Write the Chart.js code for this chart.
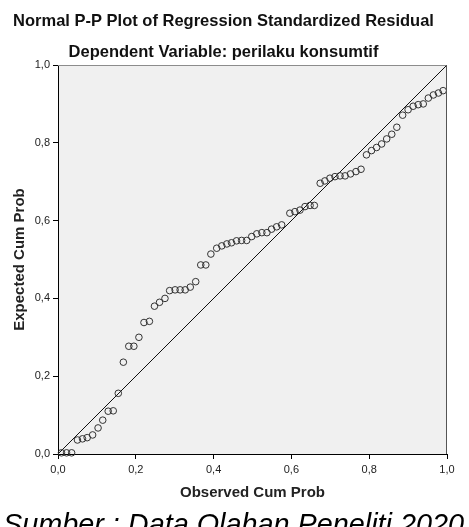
<!DOCTYPE html>
<html>
<head>
<meta charset="utf-8">
<script src="https://cdn.jsdelivr.net/npm/chart.js@4.4.0/dist/chart.umd.min.js"></script>
<style>
  html, body { margin: 0; padding: 0; background: #fff; overflow: hidden; }
  #wrap { position: relative; width: 469px; height: 527px; }
  #caption {
    position: absolute; left: 3px; top: 510px;
    font: italic 28.8px "Liberation Sans", Arial, sans-serif;
    line-height: 28.8px; white-space: nowrap; color: #000;
  }
</style>
</head>
<body>
<div id="wrap">
  <canvas id="pp-plot" width="469" height="527"></canvas>
  <div id="caption">Sumber : Data Olahan Peneliti 2020</div>
</div>
<script>
// observed vs expected cumulative probability
const observedProb = [
    0.009, 0.022, 0.035, 0.050, 0.063, 0.075, 0.089, 0.103, 0.115, 0.129,
    0.142, 0.155, 0.168, 0.182, 0.195, 0.208, 0.221, 0.235, 0.248, 0.261,
    0.275, 0.287, 0.301, 0.314, 0.327, 0.340, 0.354, 0.367, 0.380, 0.393,
    0.408, 0.421, 0.434, 0.446, 0.459, 0.472, 0.485, 0.498, 0.511, 0.524,
    0.537, 0.549, 0.562, 0.575, 0.596, 0.609, 0.622, 0.635, 0.648, 0.659,
    0.674, 0.686, 0.699, 0.712, 0.725, 0.738, 0.752, 0.766, 0.779, 0.793,
    0.806, 0.819, 0.832, 0.845, 0.858, 0.871, 0.886, 0.900, 0.913, 0.926,
    0.939, 0.952, 0.965, 0.978, 0.990
];
const expectedProb = [
    0.003, 0.003, 0.003, 0.036, 0.039, 0.042, 0.049, 0.067, 0.087, 0.110,
    0.111, 0.156, 0.236, 0.277, 0.277, 0.300, 0.338, 0.341, 0.380, 0.390,
    0.400, 0.420, 0.422, 0.422, 0.422, 0.429, 0.443, 0.486, 0.486, 0.514,
    0.529, 0.535, 0.540, 0.543, 0.548, 0.549, 0.549, 0.559, 0.566, 0.569,
    0.569, 0.578, 0.584, 0.589, 0.619, 0.623, 0.627, 0.636, 0.639, 0.639,
    0.696, 0.702, 0.709, 0.713, 0.715, 0.715, 0.720, 0.726, 0.732, 0.769,
    0.780, 0.788, 0.797, 0.810, 0.822, 0.840, 0.871, 0.885, 0.894, 0.898,
    0.900, 0.915, 0.923, 0.928, 0.934
];
const refLineX = [0, 1];
const refLineY = [0, 1];
const tickValues = [0, 0.2, 0.4, 0.6, 0.8, 1];
const tickLabels = ["0,0", "0,2", "0,4", "0,6", "0,8", "1,0"];

const FONT = "'Liberation Sans', Arial, sans-serif";

const plotFrame = {
    id: "plotFrame",
    beforeDraw(chart) {
        const { ctx, chartArea: a } = chart;
        ctx.save();
        ctx.fillStyle = "#f0f0f0";
        ctx.fillRect(a.left, a.top, a.right - a.left, a.bottom - a.top);
        ctx.restore();
    },
    afterDraw(chart) {
        const { ctx, chartArea: a } = chart;
        ctx.save();
        ctx.lineWidth = 1;
        ctx.strokeStyle = "#8c8c8c";
        ctx.beginPath();
        ctx.moveTo(a.left, a.top + 0.5);
        ctx.lineTo(a.right, a.top + 0.5);
        ctx.stroke();
        ctx.strokeStyle = "#555";
        ctx.beginPath();
        ctx.moveTo(a.right - 0.5, a.top);
        ctx.lineTo(a.right - 0.5, a.bottom);
        ctx.stroke();
        ctx.restore();
    }
};

function axisConfig(titleText, isX) {
    return {
        type: "linear",
        min: 0,
        max: 1,
        afterBuildTicks: (scale) => { scale.ticks = tickValues.map((v) => ({ value: v })); },
        afterFit: (scale) => {
            if (isX) scale.height = 51;
            else scale.width = 58;
        },
        ticks: {
            callback: (value, idx) => tickLabels[idx],
            font: { family: FONT, size: 11 },
            color: "#222",
            padding: isX ? 4 : 3,
            maxRotation: 0,
            autoSkip: false
        },
        grid: { drawOnChartArea: false, drawTicks: true, tickLength: 5, color: "#000" },
        border: { display: true, color: "#000", width: 1 },
        title: {
            display: true,
            text: titleText,
            font: { family: FONT, size: 15, weight: "bold" },
            color: "#222",
            padding: isX ? { top: 4, bottom: 3 } : { top: 11, bottom: 4 }
        }
    };
}

new Chart(document.getElementById("pp-plot"), {
    type: "scatter",
    data: {
        datasets: [
            {
                data: observedProb.map((x, i) => ({ x, y: expectedProb[i] })),
                pointStyle: "circle",
                pointRadius: 3.3,
                pointBorderWidth: 1,
                pointBorderColor: "#333",
                pointBackgroundColor: "rgba(0,0,0,0)",
                clip: false
            },
            {
                data: refLineX.map((x, i) => ({ x, y: refLineY[i] })),
                showLine: true,
                pointRadius: 0,
                borderColor: "#111",
                borderWidth: 1
            }
        ]
    },
    options: {
        responsive: false,
        animation: false,
        layout: { padding: { left: 0, right: 22, top: 0, bottom: 22 } },
        plugins: {
            legend: { display: false },
            tooltip: { enabled: false },
            title: {
                display: true,
                text: "Normal P-P Plot of Regression Standardized Residual",
                font: { family: FONT, size: 16.5, weight: "bold" },
                color: "#111",
                padding: { top: 12, bottom: 4 }
            },
            subtitle: {
                display: true,
                text: "Dependent Variable: perilaku konsumtif",
                font: { family: FONT, size: 16.5, weight: "bold" },
                color: "#111",
                padding: { top: 6.8, bottom: 2.6 }
            }
        },
        scales: {
            x: axisConfig("Observed Cum Prob", true),
            y: axisConfig("Expected Cum Prob", false)
        }
    },
    plugins: [plotFrame]
});
</script>
</body>
</html>
